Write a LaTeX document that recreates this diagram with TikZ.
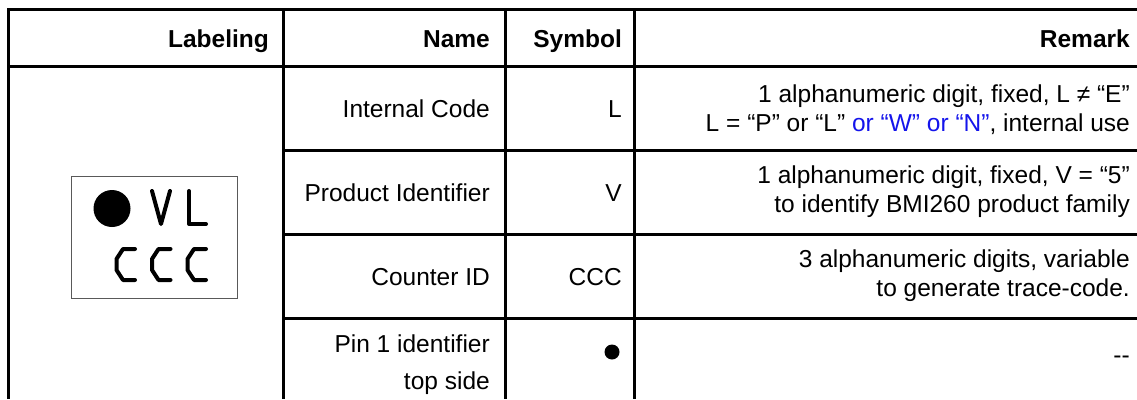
\documentclass[tikz,border=0pt]{standalone}
\usepackage{fontspec}
\setmainfont{Liberation Sans}
\definecolor{remblue}{RGB}{20,20,235}
\begin{document}
\begin{tikzpicture}[x=1pt,y=-1pt,
  grid/.style={line width=3pt,line join=miter},
  celltext/.style={anchor=east,inner sep=0pt,align=right,font=\fontsize{24.5}{29}\selectfont},
  linetext/.style={anchor=base east,inner sep=0pt,font=\fontsize{24.5}{29}\selectfont},
  headtext/.style={anchor=base east,inner sep=0pt,font=\fontsize{24.5}{29}\selectfont\bfseries},
  glyph/.style={line width=4pt,line cap=round,line join=round}]
\useasboundingbox (0,0) rectangle (1137,399);
% table grid
\draw[grid] (1137,9) -- (8,9) -- (8,399);
\draw[grid] (283,9) -- (283,399);
\draw[grid] (505,9) -- (505,399);
\draw[grid] (634,9) -- (634,399);
\draw[grid] (8,66) -- (1137,66);
\draw[grid] (283,150) -- (1137,150);
\draw[grid] (283,234) -- (1137,234);
\draw[grid] (283,318) -- (1137,318);
% header
\node[headtext] (hLab) at (269,47) {Labeling};
\node[headtext] (hName) at (490,47) {Name};
\node[headtext] (hSym) at (622,47) {Symbol};
\node[headtext] (hRem) at (1130,47) {Remark};
% row 1
\node[linetext] (n1) at (490,117) {Internal Code};
\node[linetext] (s1) at (622,117) {L};
\node[celltext] (r1) at (1130,110) {1 alphanumeric digit, fixed, L ≠ “E”\\L = “P” or “L” \textcolor{remblue}{or “W” or “N”}, internal use};
% row 2
\node[linetext] (n2) at (490,201) {Product Identifier};
\node[linetext] (s2) at (622,201) {V};
\node[celltext] (r2) at (1130,192) {1 alphanumeric digit, fixed, V = “5”\\to identify BMI260 product family};
% row 3
\node[linetext] (n3) at (490,285) {Counter ID};
\node[linetext] (s3) at (622,285) {CCC};
\node[celltext] (r3) at (1130,276) {3 alphanumeric digits, variable\\to generate trace-code.};
% row 4
\node[celltext] (n4) at (490,365) {Pin 1 identifier\\[8pt]top side};
\node[circle,fill=black,inner sep=0pt,minimum size=15pt] (s4) at (612,352) {};
\node[celltext] (r4) at (1130,360) {-{}-};
% chip marking
\node[draw=black!65,line width=1pt,minimum width=166pt,minimum height=122pt,inner sep=0pt] (chip) at (154,237) {};
\fill (112,208.5) circle (18.5);
\draw[glyph] (152,191) -- (161,224) -- (170,191);
\draw[glyph] (189,191) -- (189,224) -- (206,224);
\foreach \dx in {0,35.5,71}{
  \draw[glyph] (135+\dx,249) -- (123+\dx,249) -- (116.5+\dx,259) -- (116.5+\dx,270) -- (123+\dx,280) -- (135+\dx,280);
}
\end{tikzpicture}
\end{document}
